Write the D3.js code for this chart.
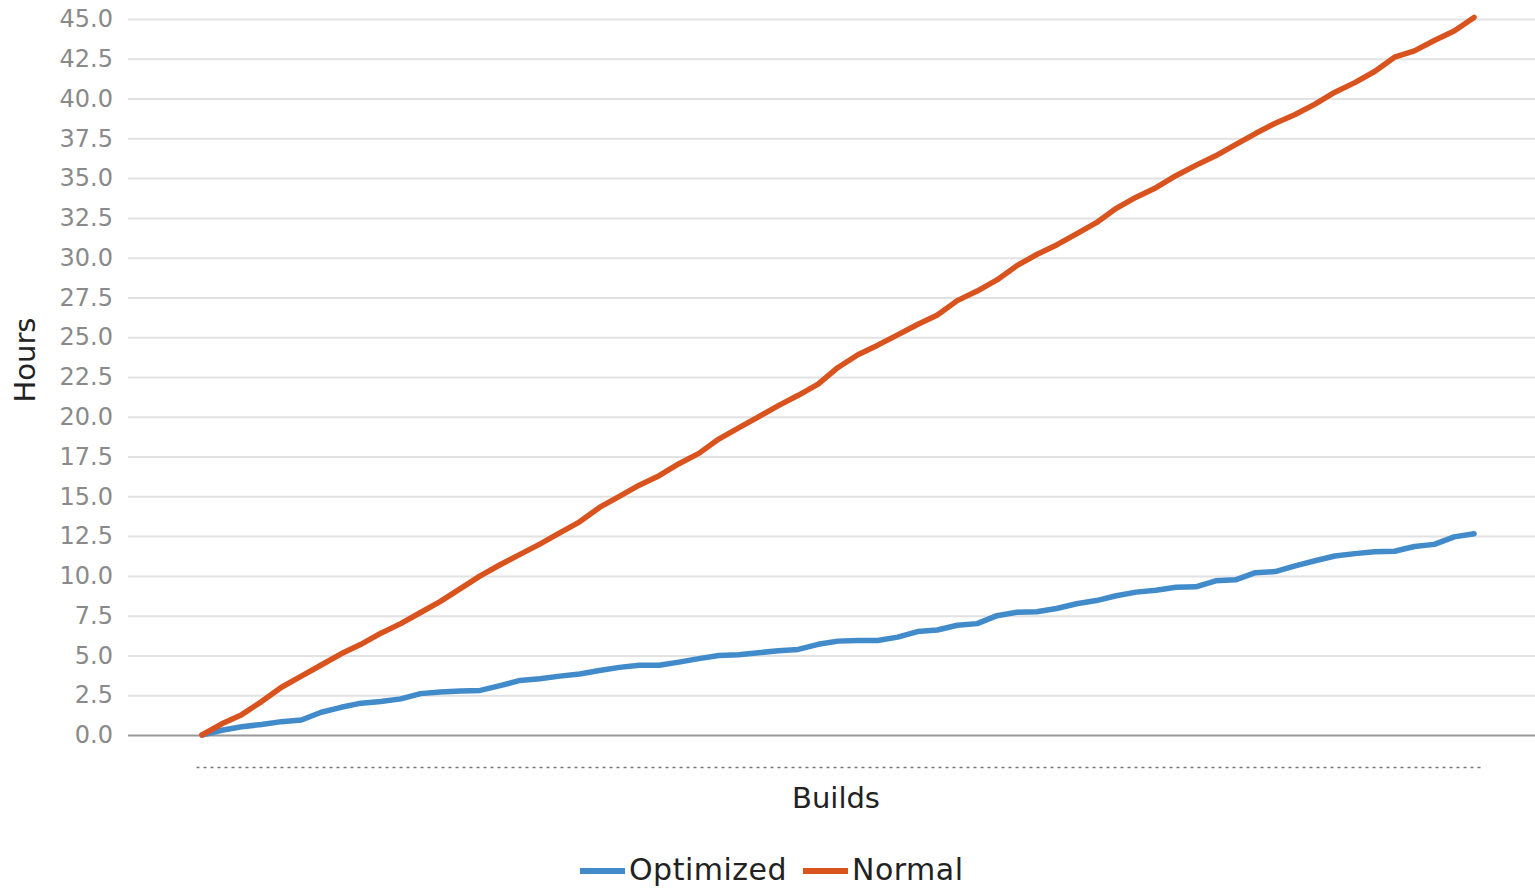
<!DOCTYPE html>
<html>
<head>
<meta charset="utf-8">
<script src="https://cdn.jsdelivr.net/npm/d3@7"></script>
<style>
  body { margin: 0; background: #fff; }
  svg { display: block; font-family: 'DejaVu Sans', sans-serif; }
</style>
</head>
<body>
<div id="chart"></div>
<script>
//Width and height
var width = 1535;
var height = 888;

// y axis ticks
var yTicks = [0, 2.5, 5, 7.5, 10, 12.5, 15, 17.5, 20, 22.5, 25, 27.5, 30, 32.5, 35, 37.5, 40, 42.5, 45];

// cumulative hours per build
var optimized = [0, 0.3, 0.52, 0.66, 0.84, 0.94, 1.43, 1.74, 2.0, 2.1,
  2.27, 2.6, 2.7, 2.77, 2.8, 3.1, 3.43, 3.54, 3.7, 3.83,
  4.05, 4.25, 4.38, 4.38, 4.58, 4.8, 5.0, 5.05, 5.17, 5.3,
  5.38, 5.7, 5.9, 5.94, 5.94, 6.15, 6.5, 6.6, 6.9, 7.0,
  7.5, 7.71, 7.75, 7.95, 8.25, 8.45, 8.75, 8.98, 9.1, 9.28,
  9.31, 9.69, 9.75, 10.2, 10.27, 10.63, 10.95, 11.25, 11.4, 11.52,
  11.55, 11.85, 11.98, 12.45, 12.65];

var normal = [0, 0.7, 1.28, 2.1, 3.0, 3.7, 4.4, 5.1, 5.7, 6.4,
  7.0, 7.7, 8.4, 9.2, 10.0, 10.7, 11.35, 12.0, 12.7, 13.4,
  14.3, 15.0, 15.7, 16.3, 17.05, 17.7, 18.6, 19.3, 20.0, 20.7,
  21.35, 22.05, 23.1, 23.9, 24.5, 25.15, 25.8, 26.4, 27.3, 27.9,
  28.6, 29.5, 30.2, 30.8, 31.5, 32.2, 33.1, 33.8, 34.4, 35.15,
  35.8, 36.4, 37.1, 37.8, 38.45, 39.0, 39.65, 40.4, 41.0, 41.7,
  42.6, 43.0, 43.65, 44.25, 45.1];

var builds = d3.range(1, normal.length + 1);

var seriesNames = ['Optimized', 'Normal'];
var seriesColors = ['#428bca', '#d9531e'];
var series = [optimized, normal];

var svg = d3.select('#chart')
  .append('svg')
  .attr('width', width)
  .attr('height', height);

// Setting up scalers
var xScale = d3.scalePoint()
  .domain(builds)
  .range([196, 1480])
  .padding(0.3);

var yScale = d3.scaleLinear()
  .domain([0, 45])
  .range([735, 19]);

// gridlines + labels
var yAxis = d3.axisLeft(yScale)
  .tickValues(yTicks)
  .tickFormat(d3.format('.1f'))
  .tickSize(-(width - 128))
  .tickPadding(15);

var gy = svg.append('g')
  .attr('transform', 'translate(128,0)')
  .call(yAxis);

gy.select('.domain').remove();
gy.selectAll('.tick line')
  .attr('stroke', function (d) { return d === 0 ? '#999' : '#e2e2e2'; })
  .attr('stroke-width', 2);
gy.selectAll('.tick text')
  .attr('fill', '#8a8a8a')
  .style('font-size', '24px')
  .style('font-family', 'DejaVu Sans, sans-serif');

// dotted x axis
var xAxis = d3.axisBottom(xScale)
  .tickValues([])
  .tickSizeOuter(0);

var gx = svg.append('g')
  .attr('transform', 'translate(0,767)')
  .call(xAxis);

gx.select('.domain')
  .attr('stroke', '#777')
  .attr('stroke-width', 1.5)
  .attr('stroke-dasharray', '3,4');

// lines
var line = d3.line()
  .x(function (d, i) { return xScale(builds[i]); })
  .y(function (d) { return yScale(d); });

svg.selectAll('path.series')
  .data(series)
  .enter()
  .append('path')
  .attr('class', 'series')
  .attr('d', line)
  .attr('fill', 'none')
  .attr('stroke', function (d, i) { return seriesColors[i]; })
  .attr('stroke-width', 5.5)
  .attr('stroke-linejoin', 'round')
  .attr('stroke-linecap', 'round');

// axis titles
svg.append('text')
  .attr('transform', 'translate(35,360) rotate(-90)')
  .attr('text-anchor', 'middle')
  .attr('fill', '#222')
  .style('font-size', '29px')
  .text('Hours');

svg.append('text')
  .attr('x', 836)
  .attr('y', 808)
  .attr('text-anchor', 'middle')
  .attr('fill', '#222')
  .style('font-size', '29px')
  .text('Builds');

// legend
var legendX = [580, 803];
var legend = svg.selectAll('g.legend')
  .data(seriesNames)
  .enter()
  .append('g')
  .attr('class', 'legend')
  .attr('transform', function (d, i) { return 'translate(' + legendX[i] + ',871)'; });

legend.append('line')
  .attr('x1', 0)
  .attr('x2', 45)
  .attr('stroke', function (d, i) { return seriesColors[i]; })
  .attr('stroke-width', 6);

legend.append('text')
  .attr('x', 49)
  .attr('y', 9)
  .attr('fill', '#222')
  .style('font-size', '30px')
  .style('letter-spacing', '0.5px')
  .text(function (d) { return d; });
</script>
</body>
</html>
